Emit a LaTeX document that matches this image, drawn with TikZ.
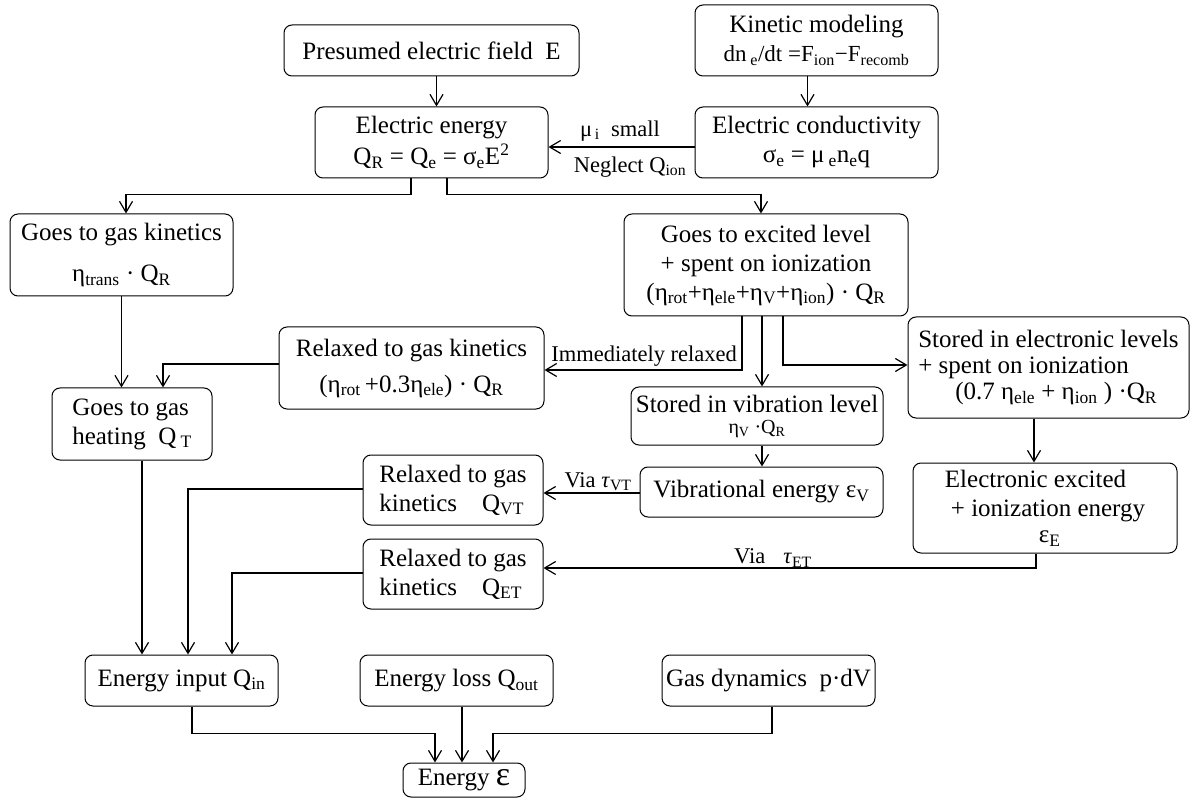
\documentclass[tikz,border=0pt]{standalone}
\usepackage{fontspec}
\setmainfont{Liberation Serif}
\usetikzlibrary{arrows.meta,calc}
\newcommand\sbs[1]{\textsubscript{#1}}
\newcommand\sps[1]{\textsuperscript{#1}}
\begin{document}
\begin{tikzpicture}[x=1pt,y=-1pt,
  box/.style={draw,rounded corners=8pt,line width=1pt,inner sep=0pt,align=center,
    font=\fontsize{25}{29}\selectfont},
  arr/.style={-{Straight Barb[length=11pt,width=13pt,line width=1.2pt]},line width=1.6pt},
  lbl/.style={inner sep=0pt,font=\fontsize{22.5}{24}\selectfont}]
\useasboundingbox (0,0) rectangle (1192,802);
% boxes
\node[box,minimum width=295pt,minimum height=51pt] (pres) at (431.5,50.5) {Presumed electric field\ \ E};
\node[box,minimum width=243pt,minimum height=71pt] (kin) at (816.5,40.5)
  {Kinetic modeling\\{\fontsize{23}{26}\selectfont dn\,\sbs{e}/dt =F\sbs{ion}−F\sbs{recomb}}};
\node[box,minimum width=233pt,minimum height=71pt] (ee) at (431.5,142.5)
  {Electric energy\\[2pt]Q\sbs{R} = Q\sbs{e} = σ\sbs{e}E\sps{2}};
\node[box,minimum width=243pt,minimum height=71pt] (cond) at (816.5,142.5)
  {Electric conductivity\\σ\sbs{e} = μ\,\sbs{e}n\sbs{e}q};
\node[box,minimum width=223pt,minimum height=82pt] (gk) at (121.5,255)
  {Goes to gas kinetics\\[12pt]η\sbs{trans} · Q\sbs{R}};
\node[box,minimum width=284pt,minimum height=102pt] (exc) at (766,265)
  {Goes to excited level\\+ spent on ionization\\(η\sbs{rot}+η\sbs{ele}+η\sbs{V}+η\sbs{ion}) · Q\sbs{R}};
\node[box,minimum width=265pt,minimum height=82pt] (rel) at (411.5,368)
  {Relaxed to gas kinetics\\[7pt](η\sbs{rot}\,+0.3η\sbs{ele}) · Q\sbs{R}};
\node[box,align=left,minimum width=160pt,minimum height=72pt] (heat) at (132,424)
  {Goes to gas\\heating\ \ Q\,\sbs{T}};
\node[box,minimum width=252pt,minimum height=58pt] (vib) at (757,416)
  {Stored in vibration level\\[-8pt]{\fontsize{20}{22}\selectfont η\sbs{V} ·Q\sbs{R}}};
\node[box,align=left,minimum width=281pt,minimum height=101pt] (eln) at (1048.5,367.5)
  {Stored in electronic levels\\[-3pt]+ spent on ionization\\[-3pt]\hspace*{37pt}(0.7 η\sbs{ele} + η\sbs{ion} ) ·Q\sbs{R}};
\node[box,minimum width=243pt,minimum height=50pt] (vibe) at (761.5,492)
  {Vibrational energy ε\sbs{V}};
\node[box,align=left,minimum width=264pt,minimum height=90pt] (eexc) at (1045,508)
  {Electronic excited\\\hspace*{6pt}+ ionization energy\\[-3pt]\hspace*{94pt}ε\sbs{E}};
\node[box,align=left,minimum width=180pt,minimum height=70pt] (vt) at (453,490)
  {Relaxed to gas\\kinetics\quad Q\sbs{VT}};
\node[box,align=left,minimum width=180pt,minimum height=70pt] (et) at (453,574)
  {Relaxed to gas\\kinetics\quad Q\sbs{ET}};
\node[box,minimum width=193pt,minimum height=51pt] (ein) at (181.5,680.5) {Energy input Q\sbs{in}};
\node[box,minimum width=193pt,minimum height=51pt] (eloss) at (456.5,680.5) {Energy loss Q\sbs{out}};
\node[box,minimum width=213pt,minimum height=51pt] (gas) at (768.5,680.5) {Gas dynamics\ \ p·dV};
\node[box,minimum width=122pt,minimum height=34pt] (en) at (464,780) {Energy {\fontsize{34}{34}\selectfont ε}};
% connectors
\draw[arr] ([xshift=5pt]pres.south) -- ([xshift=5pt]ee.north);
\draw[arr] ([xshift=-9pt]kin.south) -- ([xshift=-9pt]cond.north);
\draw[arr] ([yshift=-4.5pt]cond.west) -- ([yshift=-4.5pt]ee.east);
\node[lbl] (lmu) at (620,131) {μ\sbs{\,i}\ \ small};
\node[lbl] (lneg) at (630,167) {Neglect Q\sbs{ion}};
\draw[arr] ([xshift=-20.5pt]ee.south) -- ++(0,16) -| ([xshift=4.5pt]gk.north);
\draw[arr] ([xshift=15.5pt]ee.south) -- ++(0,16) -| ([xshift=-5pt]exc.north);
\draw[arr] (gk.south) -- (gk.south |- heat.north);
\draw[arr] ([yshift=4pt]rel.west) -| ([xshift=31pt]heat.north);
\draw[arr] ([xshift=-24pt]exc.south) |- ([yshift=-2pt]rel.east);
\node[lbl,anchor=east] (limm) at (737,356) {Immediately relaxed};
\draw[arr] ([xshift=-4pt]exc.south) -- ([xshift=-4pt]exc.south |- vib.north);
\draw[arr] ([xshift=17pt]exc.south) |- ([yshift=2.5pt]eln.west);
\draw[arr] ([xshift=-14.5pt]eln.south) -- ([xshift=-14.5pt]eln.south |- eexc.north);
\draw[arr] ([xshift=5pt]vib.south) -- ([xshift=5pt]vib.south |- vibe.north);
\draw[arr] ([yshift=-1pt]vibe.west) -- ([yshift=-1pt]vibe.west -| vt.east);
\node[lbl] (lvt) at (598,482) {Via \textit{τ}\sbs{VT}};
\draw[arr] ([xshift=-9pt]eexc.south) |- ([yshift=6pt]et.east);
\node[lbl] (let) at (773,558) {Via\hspace{18pt}\textit{τ}\sbs{ET}};
\draw[arr] ([xshift=10pt]heat.south) -- ([xshift=10pt]heat.south |- ein.north);
\draw[arr] ([yshift=1pt]vt.west) -| ([xshift=6.5pt]ein.north);
\draw[arr] ([yshift=1pt]et.west) -| ([xshift=50.5pt]ein.north);
\draw[arr] ([xshift=10.5pt]ein.south) -- ++(0,27) -| ([xshift=-29pt]en.north);
\draw[arr] ([xshift=5.5pt]eloss.south) -- ([xshift=5.5pt]eloss.south |- en.north);
\draw[arr] ([xshift=3.5pt]gas.south) -- ++(0,27) -| ([xshift=29pt]en.north);
\end{tikzpicture}
\end{document}
